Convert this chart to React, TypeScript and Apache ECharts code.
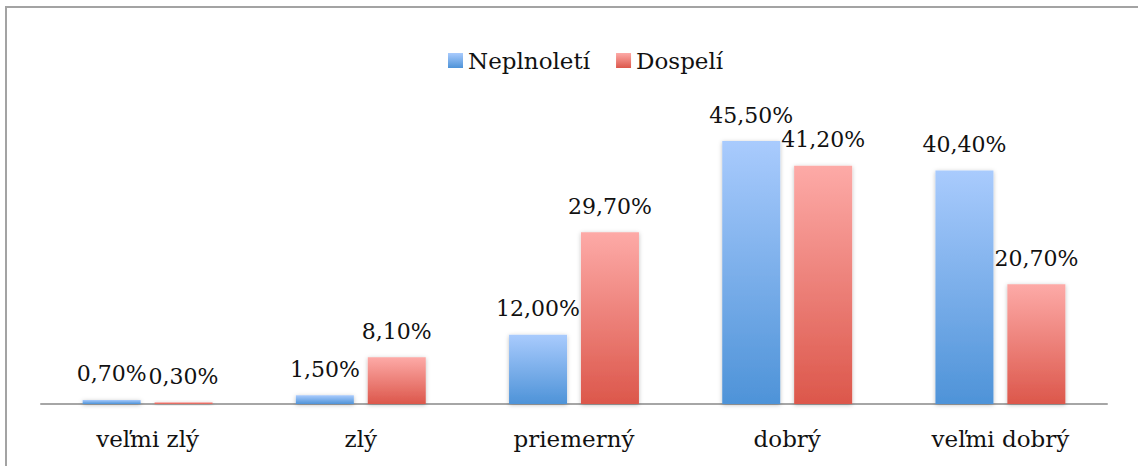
import React, { useEffect, useRef } from "react";
import * as echarts from "echarts";

const categories = ["veľmi zlý", "zlý", "priemerný", "dobrý", "veľmi dobrý"];
const seriesNames = ["Neplnoletí", "Dospelí"];
const minors = [0.7, 1.5, 12.0, 45.5, 40.4];
const adults = [0.3, 8.1, 29.7, 41.2, 20.7];

const FONT = "DejaVu Serif";

export default function App() {
  const ref = useRef<HTMLDivElement>(null);
  useEffect(() => {
    document.body.style.margin = "0";
    const chart = echarts.init(ref.current!, null, { renderer: "svg" });
    const blue = new echarts.graphic.LinearGradient(0, 0, 0, 1, [
      { offset: 0, color: "#a9cbfd" },
      { offset: 1, color: "#4e93d8" },
    ]);
    const red = new echarts.graphic.LinearGradient(0, 0, 0, 1, [
      { offset: 0, color: "#fdaaa7" },
      { offset: 1, color: "#dc574b" },
    ]);
    const label = {
      show: true,
      position: "top" as const,
      distance: 15,
      fontFamily: FONT,
      fontSize: 22,
      color: "#111",
      formatter: (p: any) => p.value.toFixed(2).replace(".", ",") + "%",
    };
    chart.setOption({
      animation: false,
      backgroundColor: "#fff",
      graphic: [
        {
          type: "rect",
          shape: { x: 6, y: 7, width: 1300, height: 600 },
          style: { fill: "none", stroke: "#a3a3a3", lineWidth: 2 },
          silent: true,
        },
      ],
      legend: {
        top: 44,
        left: 443,
        itemWidth: 15,
        itemHeight: 15,
        itemGap: 26,
        icon: "rect",
        textStyle: { fontFamily: FONT, fontSize: 23, color: "#111" },
        data: seriesNames,
      },
      grid: { left: 41, right: 31, top: 115, bottom: 62 },
      xAxis: {
        type: "category",
        data: categories,
        axisLine: { lineStyle: { color: "#a6a6a6", width: 2 } },
        axisTick: { show: false },
        axisLabel: { fontFamily: FONT, fontSize: 23, color: "#111", margin: 23 },
      },
      yAxis: {
        type: "value",
        min: 0,
        max: 50,
        show: false,
        splitLine: { show: false },
      },
      series: [
        {
          name: seriesNames[0],
          type: "bar",
          data: minors,
          barWidth: 58,
          barGap: "24%",
          itemStyle: {
            color: blue,
            shadowBlur: 4,
            shadowColor: "rgba(0,0,0,0.25)",
            shadowOffsetY: 1,
          },
          label,
        },
        {
          name: seriesNames[1],
          type: "bar",
          data: adults,
          barWidth: 58,
          itemStyle: {
            color: red,
            shadowBlur: 4,
            shadowColor: "rgba(0,0,0,0.25)",
            shadowOffsetY: 1,
          },
          label,
        },
      ],
    });
    return () => chart.dispose();
  }, []);
  return (
    <div
      ref={ref}
      style={{ position: "fixed", left: 0, top: 0, width: 1138, height: 466 }}
    />
  );
}
